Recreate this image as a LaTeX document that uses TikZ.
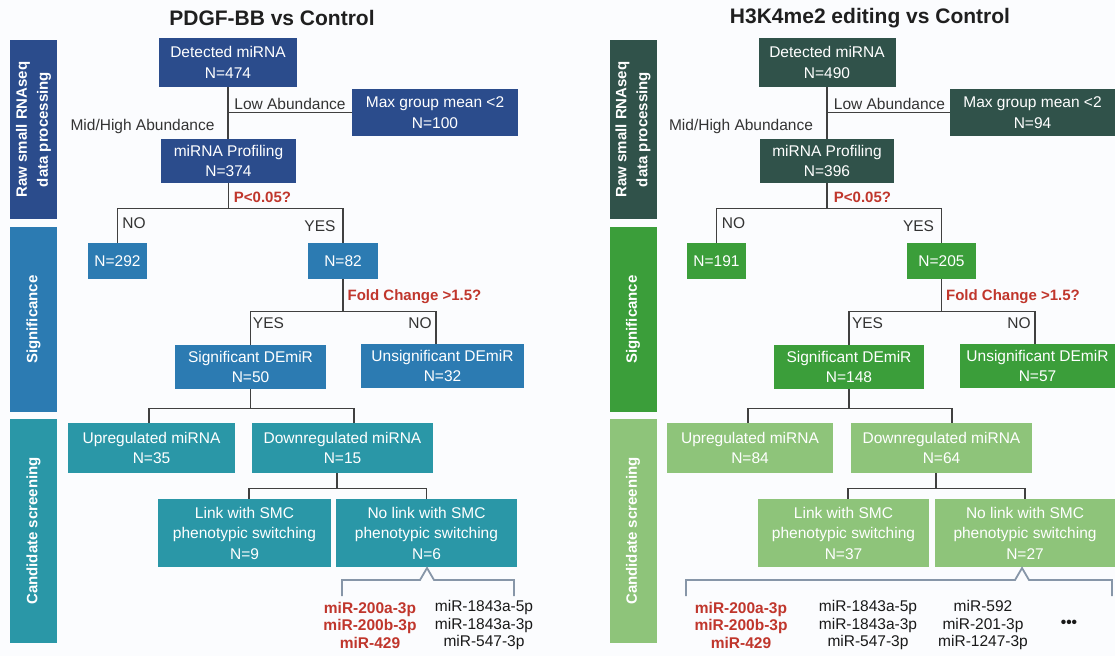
\documentclass[tikz,border=0pt]{standalone}
\usepackage{fontspec}
\setmainfont{Liberation Sans}
\definecolor{bgc}{HTML}{FBFCFE}
\definecolor{blueD}{HTML}{2B4C8C}
\definecolor{blueM}{HTML}{2C7BB2}
\definecolor{tealC}{HTML}{2A97A7}
\definecolor{greenD}{HTML}{30524A}
\definecolor{greenM}{HTML}{3B9E3A}
\definecolor{greenL}{HTML}{8EC47A}
\definecolor{qred}{HTML}{C0362C}
\definecolor{linegray}{HTML}{404040}
\definecolor{labelgray}{HTML}{333333}
\definecolor{brkgray}{HTML}{8796A8}
\newcommand\bxfont{\fontsize{15.5}{20.5}\selectfont}
\newcommand\barfont{\fontsize{15}{21}\selectfont\bfseries}
\newcommand\redqfont{\fontsize{15}{18}\selectfont\bfseries}
\newcommand\mirfont{\fontsize{15.5}{17.5}\selectfont}
\newcommand\ttlfont{\fontsize{21}{24}\selectfont\bfseries}
\tikzset{
  box/.style={rectangle, inner sep=0pt, align=center, text=white, font=\bxfont},
  sz/.style 2 args={minimum width=#1pt, minimum height=#2pt},
  sidebar/.style={rectangle, inner sep=0pt, align=center, text=white, font=\barfont, rotate=90},
  conn/.style={line width=1.4pt, draw=linegray},
  brk/.style={line width=1.8pt, draw=brkgray, line join=miter},
  lbl/.style={font=\bxfont, text=labelgray, inner sep=0pt},
  qlbl/.style={font=\redqfont, text=qred, inner sep=0pt},
  mirred/.style={font=\mirfont\bfseries, text=qred, align=center, inner sep=0pt},
  mirblk/.style={font=\mirfont, text=black!90, align=center, inner sep=0pt},
  ttl/.style={font=\ttlfont, text=black!88, inner sep=0pt}
}
\begin{document}
\begin{tikzpicture}[x=1pt, y=-1pt]
\fill[bgc] (0,0) rectangle (1115,656);
\useasboundingbox (0,0) rectangle (1115,656);

% ---------------- PDGF-BB vs Control ----------------
\node[ttl] (tL) at (272,18) {PDGF-BB vs Control};

\node[sidebar, fill=blueD, sz={179}{47}] (barL1) at (33.5,129.5) {Raw small RNAseq\\data processing};
\node[sidebar, fill=blueM, sz={185}{47}] (barL2) at (33.5,319.5) {Significance};
\node[sidebar, fill=tealC, sz={224}{47}] (barL3) at (33.5,531) {Candidate screening};

\node[box, fill=blueD, sz={138}{49}] (detL) at (228,62.5) {Detected miRNA\\N=474};
\node[box, fill=blueD, sz={166}{47}] (maxL) at (435,112.5) {Max group mean <2\\N=100};
\node[box, fill=blueD, sz={135}{44}] (profL) at (228.5,161) {miRNA Profiling\\N=374};
\node[box, fill=blueM, sz={59}{36}] (noL) at (117.5,261) {N=292};
\node[box, fill=blueM, sz={70}{36}] (yesL) at (343,261) {N=82};
\node[box, fill=blueM, sz={151}{44}] (sigL) at (250.5,367) {Significant DEmiR\\N=50};
\node[box, fill=blueM, sz={163}{44}] (unsL) at (442.5,366) {Unsignificant DEmiR\\N=32};
\node[box, fill=tealC, sz={167}{50}] (upL) at (151.5,448) {Upregulated miRNA\\N=35};
\node[box, fill=tealC, sz={181}{50}] (downL) at (342.5,448) {Downregulated miRNA\\N=15};
\node[box, fill=tealC, sz={173}{68}] (linkL) at (244.5,533) {Link with SMC\\phenotypic switching\\N=9};
\node[box, fill=tealC, sz={181}{68}] (nolinkL) at (426.5,533) {No link with SMC\\phenotypic switching\\N=6};

\draw[conn] (detL.south) -- (detL.south |- profL.north);
\draw[conn] (detL.south |- maxL.west) -- (maxL.west);
\draw[conn] (profL.south) -- ++(0,25) -| (noL.north);
\draw[conn] (profL.south) ++(0,25) -| (yesL.north);
\draw[conn] (yesL.south) -- ++(0,32) -| (sigL.north);
\draw[conn] (yesL.south) ++(0,32) -| ([xshift=-6.5pt]unsL.north);
\draw[conn] (sigL.south) -- ++(0,19) -| ([xshift=-2.5pt]upL.north);
\draw[conn] (sigL.south) ++(0,19) -| ([xshift=11.5pt]downL.north);
\draw[conn] ([xshift=-5.5pt]downL.south) -- ++(0,15) -| ([xshift=4.5pt]linkL.north);
\draw[conn] ([xshift=-5.5pt]downL.south) ++(0,15) -| (nolinkL.north);

\node[lbl] (laL) at (290,104) {Low Abundance};
\node[lbl] (mhL) at (142.5,126) {Mid/High Abundance};
\node[qlbl] (pL) at (262.5,197) {P<0.05?};
\node[lbl] (nol1) at (134,223) {NO};
\node[lbl] (yesl1) at (320,226) {YES};
\node[qlbl] (fcL) at (414.5,297) {Fold Change >1.5?};
\node[lbl] (yesl2) at (268.5,323) {YES};
\node[lbl] (nol2) at (420,323) {NO};

\coordinate (bkL) at (427,568);
\draw[brk] (342,596) -- (342,580) -- (420,580) -- (bkL) -- (434,580) -- (514,580) -- (514,596);
\node[mirred] (mirL1) at (370,625) {miR-200a-3p\\miR-200b-3p\\miR-429};
\node[mirblk] (mirL2) at (484,625) {miR-1843a-5p\\miR-1843a-3p\\miR-547-3p};

% ---------------- H3K4me2 editing vs Control ----------------
\node[ttl] (tR) at (870,18) {H3K4me2 editing vs Control};

\node[sidebar, fill=greenD, sz={179}{47}] (barR1) at (633,129.5) {Raw small RNAseq\\data processing};
\node[sidebar, fill=greenM, sz={185}{47}] (barR2) at (633,319.5) {Significance};
\node[sidebar, fill=greenL, sz={224}{47}] (barR3) at (633,531) {Candidate screening};

\node[box, fill=greenD, sz={137}{49}] (detR) at (827,62.5) {Detected miRNA\\N=490};
\node[box, fill=greenD, sz={165}{47}] (maxR) at (1032.5,112.5) {Max group mean <2\\N=94};
\node[box, fill=greenD, sz={134}{44}] (profR) at (827,161) {miRNA Profiling\\N=396};
\node[box, fill=greenM, sz={59}{36}] (noR) at (716.5,261) {N=191};
\node[box, fill=greenM, sz={69}{36}] (yesR) at (941.5,261) {N=205};
\node[box, fill=greenM, sz={150}{44}] (sigR) at (849,367) {Significant DEmiR\\N=148};
\node[box, fill=greenM, sz={155}{44}] (unsR) at (1037.5,366) {Unsignificant DEmiR\\N=57};
\node[box, fill=greenL, sz={166}{50}] (upR) at (750,448) {Upregulated miRNA\\N=84};
\node[box, fill=greenL, sz={181}{50}] (downR) at (941.5,448) {Downregulated miRNA\\N=64};
\node[box, fill=greenL, sz={171}{68}] (linkR) at (843.5,533) {Link with SMC\\phenotypic switching\\N=37};
\node[box, fill=greenL, sz={180}{68}] (nolinkR) at (1025,533) {No link with SMC\\phenotypic switching\\N=27};

\draw[conn] (detR.south) -- (detR.south |- profR.north);
\draw[conn] (detR.south |- maxR.west) -- (maxR.west);
\draw[conn] (profR.south) -- ++(0,25) -| (noR.north);
\draw[conn] (profR.south) ++(0,25) -| (yesR.north);
\draw[conn] (yesR.south) -- ++(0,32) -| (sigR.north);
\draw[conn] (yesR.south) ++(0,32) -| ([xshift=-2.5pt]unsR.north);
\draw[conn] (sigR.south) -- ++(0,19) -| ([xshift=-2pt]upR.north);
\draw[conn] (sigR.south) ++(0,19) -| ([xshift=10.5pt]downR.north);
\draw[conn] ([xshift=-5.5pt]downR.south) -- ++(0,15) -| ([xshift=4.5pt]linkR.north);
\draw[conn] ([xshift=-5.5pt]downR.south) ++(0,15) -| (nolinkR.north);

\node[lbl] (laR) at (889.5,104) {Low Abundance};
\node[lbl] (mhR) at (741,126) {Mid/High Abundance};
\node[qlbl] (pR) at (862.5,197) {P<0.05?};
\node[lbl] (nor1) at (733.5,223) {NO};
\node[lbl] (yesr1) at (918.5,226) {YES};
\node[qlbl] (fcR) at (1013,297) {Fold Change >1.5?};
\node[lbl] (yesr2) at (867.5,323) {YES};
\node[lbl] (nor2) at (1019,323) {NO};

\coordinate (bkR) at (1022,568);
\draw[brk] (686,596) -- (686,580) -- (1015,580) -- (bkR) -- (1029,580) -- (1112,580) -- (1112,596);
\node[mirred] (mirR1) at (741,625) {miR-200a-3p\\miR-200b-3p\\miR-429};
\node[mirblk] (mirR2) at (868,625) {miR-1843a-5p\\miR-1843a-3p\\miR-547-3p};
\node[mirblk] (mirR3) at (983,625) {miR-592\\miR-201-3p\\miR-1247-3p};
\node[mirblk, font=\mirfont\bfseries] (dotsR) at (1069,624) {•••};
\end{tikzpicture}
\end{document}
